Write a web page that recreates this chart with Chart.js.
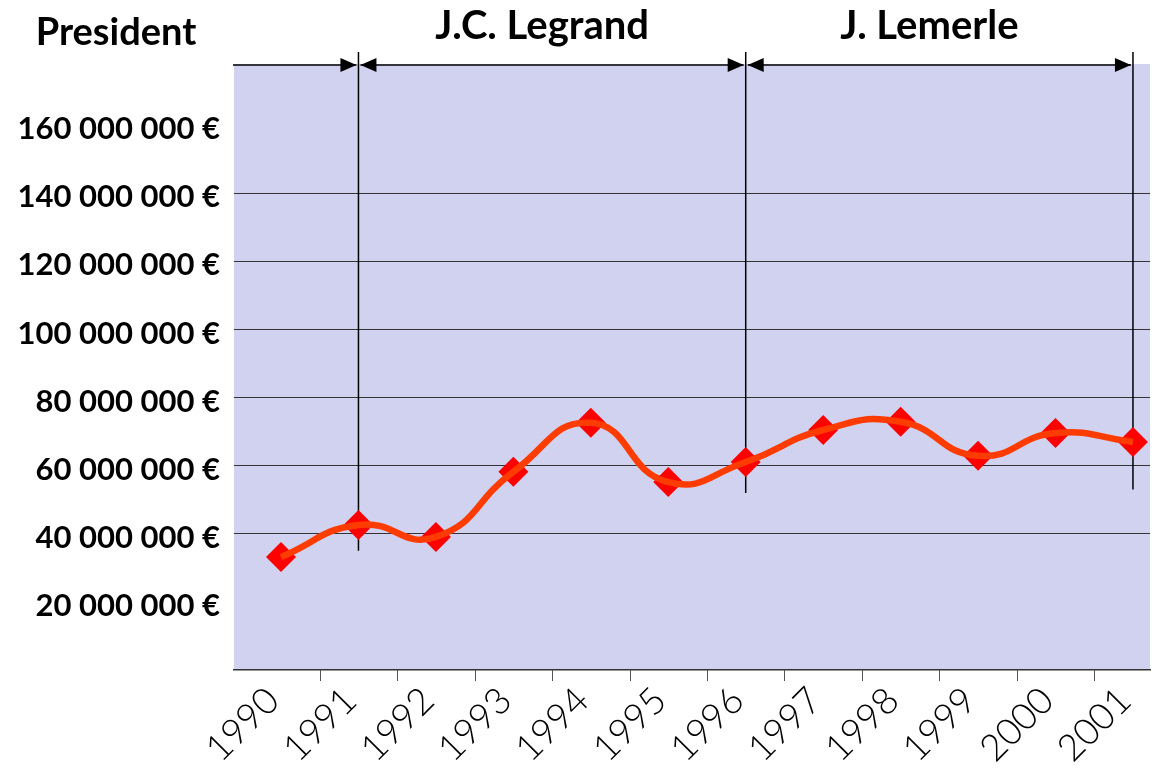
<!DOCTYPE html>
<html>
<head>
<meta charset="utf-8">
<script src="https://cdn.jsdelivr.net/npm/chart.js@4.4.1/dist/chart.umd.min.js"></script>
<style>
  html, body { margin: 0; background: #fff; overflow: hidden; }
  #box { width: 1156px; height: 776px; position: relative; }
</style>
</head>
<body>
<div id="box"><canvas id="lineChart"></canvas></div>
<script>
// data
const years = ['1990', '1991', '1992', '1993', '1994', '1995', '1996', '1997', '1998', '1999', '2000', '2001'];
const budget = [33.2e6, 42.6e6, 39.1e6, 58.2e6, 72.6e6, 55.2e6, 61.1e6, 70.5e6, 72.9e6, 62.9e6, 69.6e6, 67.0e6];
const presidents = ['J.C. Legrand', 'J. Lemerle'];
const termBounds = [1, 6, 11];            // index in years where a mandate starts / ends
const termLineEnds = [35e6, 52e6, 53e6];  // where the vertical markers stop
const yTicks = [20e6, 40e6, 60e6, 80e6, 100e6, 120e6, 140e6, 160e6];
const gridValues = [40e6, 60e6, 80e6, 100e6, 120e6, 140e6];

const points = years.map((y, i) => ({ x: i, y: budget[i] }));

const fmtEuro = v => String(v).replace(/\B(?=(\d{3})+(?!\d))/g, ' ') + ' €';

// background, tick marks, presidents' mandates
const decor = {
    id: 'decor',
    beforeDraw(chart) {
        const { ctx, chartArea: a } = chart;
        ctx.save();
        ctx.fillStyle = '#d1d2f0';
        ctx.fillRect(a.left, a.top, a.right - a.left, a.bottom - a.top);
        ctx.restore();
    },
    beforeDatasetsDraw(chart) {
        const { ctx, chartArea: a, scales: { x, y } } = chart;
        ctx.save();
        ctx.strokeStyle = '#000';
        ctx.lineWidth = 1.5;
        termBounds.forEach((idx, k) => {
            const px = x.getPixelForValue(idx);
            ctx.beginPath();
            ctx.moveTo(px, a.top - 12);
            ctx.lineTo(px, y.getPixelForValue(termLineEnds[k]));
            ctx.stroke();
        });
        ctx.restore();
    },
    afterDraw(chart) {
        const { ctx, chartArea: a, scales: { x } } = chart;
        ctx.save();
        // tick marks between years
        ctx.strokeStyle = '#555';
        ctx.lineWidth = 1;
        for (let i = 0; i < years.length - 1; i++) {
            const px = Math.round(x.getPixelForValue(i + 0.5)) + 0.5;
            ctx.beginPath();
            ctx.moveTo(px, a.bottom);
            ctx.lineTo(px, a.bottom + 11);
            ctx.stroke();
        }

        // arrows
        const ay = a.top + 1;
        const head = (px, dir) => {
            ctx.beginPath();
            ctx.moveTo(px, ay);
            ctx.lineTo(px - dir * 16, ay - 7);
            ctx.lineTo(px - dir * 16, ay + 7);
            ctx.closePath();
            ctx.fill();
        };
        const arrow = (x1, x2, both) => {
            ctx.beginPath();
            ctx.moveTo(x1, ay);
            ctx.lineTo(x2, ay);
            ctx.stroke();
            head(x2, 1);
            if (both) head(x1, -1);
        };
        ctx.strokeStyle = '#000';
        ctx.fillStyle = '#000';
        ctx.lineWidth = 1.5;
        const bx = termBounds.map(i => x.getPixelForValue(i));
        arrow(a.left - 1, bx[0] - 2, false);
        for (let k = 0; k < presidents.length; k++) arrow(bx[k] + 2, bx[k + 1] - 2, true);

        // labels
        ctx.textAlign = 'center';
        ctx.textBaseline = 'middle';
        ctx.font = 'bold 38px Lato, "DejaVu Sans", sans-serif';
        ctx.fillText('President', 116, 33);
        ctx.font = 'bold 40px Lato, "DejaVu Sans", sans-serif';
        presidents.forEach((name, k) => {
            ctx.fillText(name, (bx[k] + bx[k + 1]) / 2 - 10, 26);
        });
        ctx.restore();
    }
};

new Chart(document.getElementById('lineChart'), {
    type: 'line',
    data: {
        datasets: [
            {
                // smoothed curve drawn above the markers
                data: points,
                borderColor: '#ff3c00',
                borderWidth: 6.5,
                tension: 0.5,
                pointRadius: 0,
                order: 0,
            },
            {
                data: points,
                showLine: false,
                pointStyle: 'rectRot',
                pointRadius: 15,
                pointBackgroundColor: '#ff0000',
                pointBorderColor: '#ff0000',
                pointBorderWidth: 0,
                order: 1,
            },
        ],
    },
    options: {
        responsive: true,
        maintainAspectRatio: false,
        animation: false,
        layout: { autoPadding: false, padding: { top: 64, right: 6, left: 0, bottom: 0 } },
        plugins: { legend: { display: false }, tooltip: { enabled: false } },
        scales: {
            x: {
                type: 'linear',
                min: -0.607,
                max: 11.22,
                afterBuildTicks: s => { s.ticks = years.map((y, i) => ({ value: i })); },
                afterFit: s => { s.height = 106; s.paddingLeft = 0; s.paddingRight = 0; },
                grid: { display: false },
                border: { display: true, color: '#333', width: 1.5 },
                ticks: {
                    autoSkip: false,
                    minRotation: 45,
                    maxRotation: 45,
                    padding: 6,
                    labelOffset: -8,
                    color: '#000',
                    font: { family: 'Lato, "DejaVu Sans", sans-serif', size: 37, weight: '300', lineHeight: 0.8 },
                    callback: v => years[v],
                },
            },
            y: {
                min: 0,
                max: 178e6,
                afterBuildTicks: s => { s.ticks = [0, ...yTicks].map(v => ({ value: v })); },
                afterFit: s => { s.width = 234; },
                border: { display: false },
                grid: {
                    drawTicks: false,
                    lineWidth: 1,
                    color: c => gridValues.includes(c.tick.value) ? '#333' : 'rgba(0,0,0,0)',
                },
                ticks: {
                    padding: 14,
                    labelOffset: 4,
                    color: '#000',
                    font: { family: 'Lato, "DejaVu Sans", sans-serif', size: 31, weight: 'bold' },
                    callback: v => yTicks.includes(v) ? fmtEuro(v) : '',
                },
            },
        },
    },
    plugins: [decor],
});
</script>
</body>
</html>
